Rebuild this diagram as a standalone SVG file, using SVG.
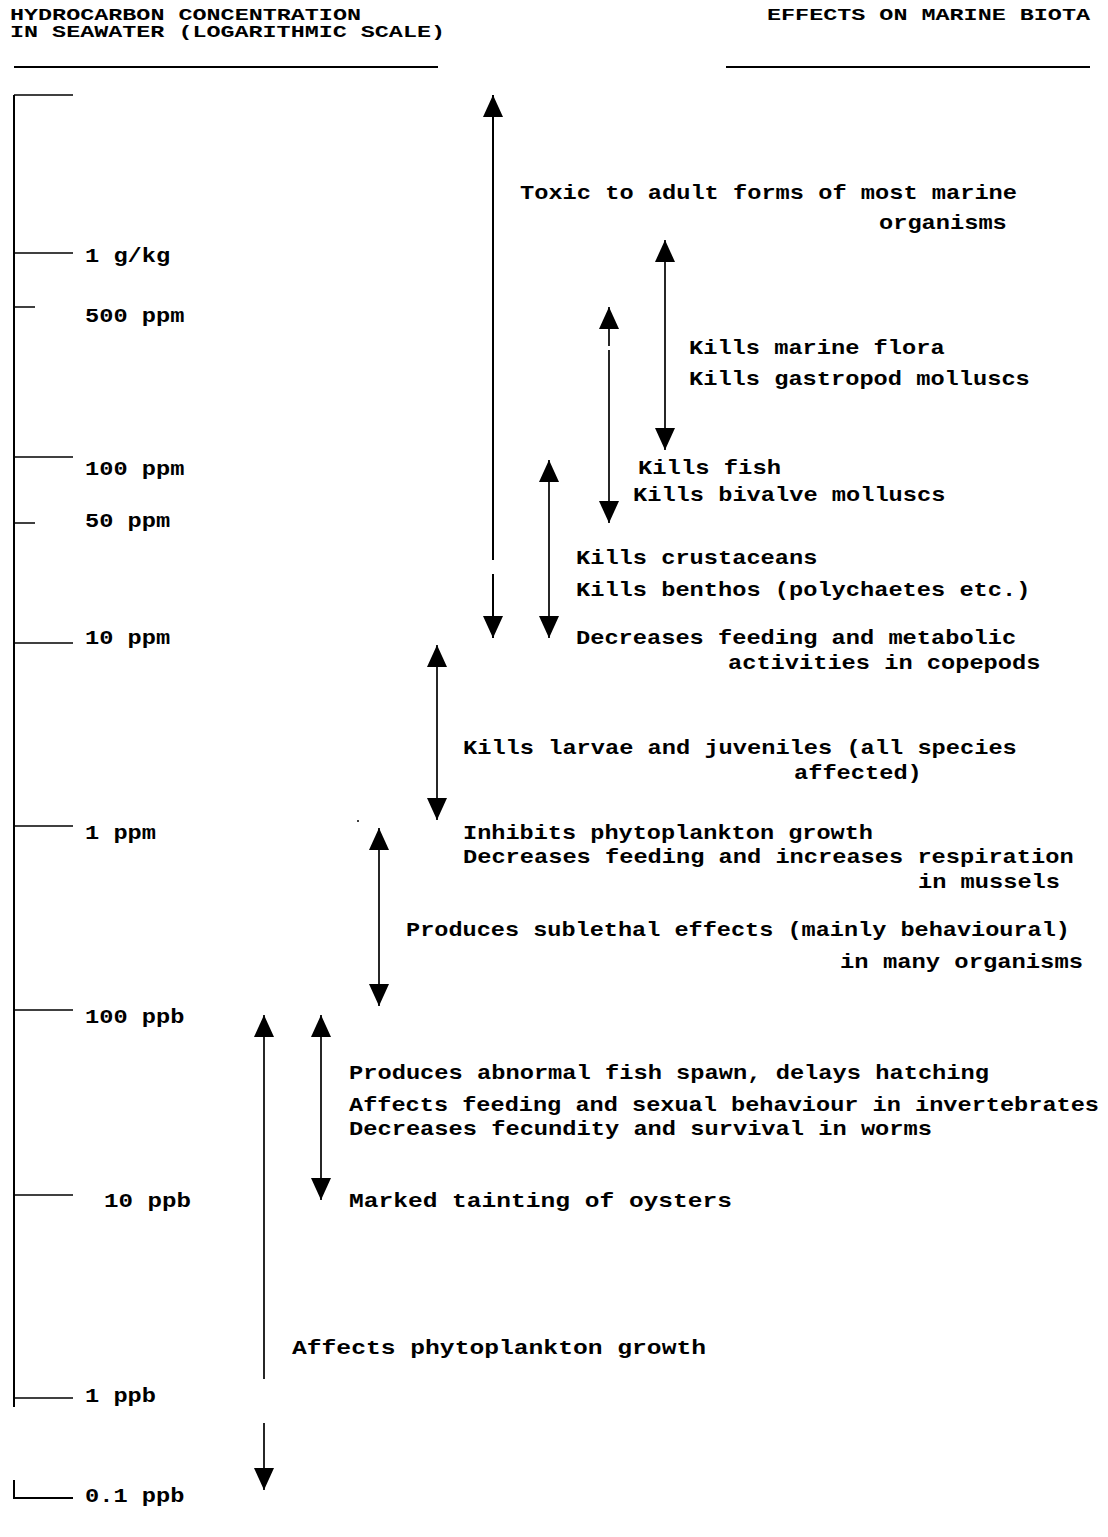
<svg xmlns="http://www.w3.org/2000/svg" width="1108" height="1537" viewBox="0 0 1108 1537">
<defs>
<style>
text{font-family:"Liberation Mono","DejaVu Sans Mono",monospace;font-weight:bold;fill:#000;}
.hd{font-size:16px;}
.t{font-size:20.5px;}
.ax{stroke:#000;stroke-width:2;fill:none;}
.tk{stroke:#000;stroke-width:1.5;fill:none;}
.ar{stroke:#000;stroke-width:1.7;fill:none;}
.arb{stroke:#000;stroke-width:2;fill:none;}
</style>
<marker id="ah" viewBox="0 0 22 20" refX="22" refY="10" markerWidth="22" markerHeight="20" markerUnits="userSpaceOnUse" orient="auto-start-reverse">
<path d="M0,0 L22,10 L0,20 Z" fill="#000"/>
</marker>
</defs>
<rect width="1108" height="1537" fill="#fff"/>

<g id="header">
<text class="hd" x="10" y="19.5" textLength="351" lengthAdjust="spacingAndGlyphs">HYDROCARBON CONCENTRATION</text>
<text class="hd" x="10" y="37" textLength="435" lengthAdjust="spacingAndGlyphs">IN SEAWATER (LOGARITHMIC SCALE)</text>
<text class="hd" x="767" y="19.5" textLength="323" lengthAdjust="spacingAndGlyphs">EFFECTS ON MARINE BIOTA</text>
<line class="ax" x1="14" y1="67" x2="438" y2="67"/>
<line class="ax" x1="726" y1="67" x2="1090" y2="67"/>
</g>

<g id="axis">
<line class="ax" x1="14" y1="95" x2="14" y2="1407"/>
<line class="tk" x1="14" y1="95" x2="73" y2="95"/>
<line class="tk" x1="14" y1="253" x2="73" y2="253"/>
<line class="tk" x1="14" y1="307" x2="35" y2="307"/>
<line class="tk" x1="14" y1="457" x2="73" y2="457"/>
<line class="tk" x1="14" y1="523" x2="35" y2="523"/>
<line class="tk" x1="14" y1="643" x2="73" y2="643"/>
<line class="tk" x1="14" y1="826" x2="73" y2="826"/>
<line class="tk" x1="14" y1="1010" x2="73" y2="1010"/>
<line class="tk" x1="14" y1="1195" x2="73" y2="1195"/>
<line class="tk" x1="14" y1="1398" x2="73" y2="1398"/>
<path class="ax" d="M14,1480 L14,1498 L73,1498"/>
</g>

<g id="axis-labels">
<text class="t" x="85" y="262" textLength="85.2" lengthAdjust="spacingAndGlyphs">1 g/kg</text>
<text class="t" x="85" y="322" textLength="99.4" lengthAdjust="spacingAndGlyphs">500 ppm</text>
<text class="t" x="85" y="475" textLength="99.4" lengthAdjust="spacingAndGlyphs">100 ppm</text>
<text class="t" x="85" y="527" textLength="85.2" lengthAdjust="spacingAndGlyphs">50 ppm</text>
<text class="t" x="85" y="644" textLength="85.2" lengthAdjust="spacingAndGlyphs">10 ppm</text>
<text class="t" x="85" y="839" textLength="71" lengthAdjust="spacingAndGlyphs">1 ppm</text>
<text class="t" x="85" y="1023" textLength="99.4" lengthAdjust="spacingAndGlyphs">100 ppb</text>
<text class="t" x="104" y="1207" textLength="87" lengthAdjust="spacingAndGlyphs">10 ppb</text>
<text class="t" x="85" y="1402" textLength="71" lengthAdjust="spacingAndGlyphs">1 ppb</text>
<text class="t" x="85" y="1502" textLength="99.4" lengthAdjust="spacingAndGlyphs">0.1 ppb</text>
</g>

<g id="connectors">
<line class="arb" x1="493" y1="95" x2="493" y2="560" marker-start="url(#ah)"/>
<line class="arb" x1="493" y1="574" x2="493" y2="638" marker-end="url(#ah)"/>
<line class="ar" x1="665" y1="240" x2="665" y2="450" marker-start="url(#ah)" marker-end="url(#ah)"/>
<line class="ar" x1="609" y1="307" x2="609" y2="346" marker-start="url(#ah)"/>
<line class="ar" x1="609" y1="350" x2="609" y2="523" marker-end="url(#ah)"/>
<line class="ar" x1="549" y1="460" x2="549" y2="638" marker-start="url(#ah)" marker-end="url(#ah)"/>
<line class="ar" x1="437" y1="645" x2="437" y2="820" marker-start="url(#ah)" marker-end="url(#ah)"/>
<line class="ar" x1="379" y1="828" x2="379" y2="1006" marker-start="url(#ah)" marker-end="url(#ah)"/>
<line class="ar" x1="264" y1="1015" x2="264" y2="1379" marker-start="url(#ah)"/>
<line class="ar" x1="264" y1="1423" x2="264" y2="1490" marker-end="url(#ah)"/>
<line class="ar" x1="321" y1="1015" x2="321" y2="1200" marker-start="url(#ah)" marker-end="url(#ah)"/>
<circle cx="358" cy="821" r="1" fill="#000"/>
</g>

<g id="n-toxic">
<text class="t" x="520" y="199" textLength="497" lengthAdjust="spacingAndGlyphs">Toxic to adult forms of most marine</text>
<text class="t" x="879" y="229" textLength="127.8" lengthAdjust="spacingAndGlyphs">organisms</text>
</g>
<g id="n-flora">
<text class="t" x="689" y="354" textLength="255.6" lengthAdjust="spacingAndGlyphs">Kills marine flora</text>
<text class="t" x="689" y="385" textLength="340.8" lengthAdjust="spacingAndGlyphs">Kills gastropod molluscs</text>
</g>
<g id="n-fish">
<text class="t" x="638" y="474" textLength="143" lengthAdjust="spacingAndGlyphs">Kills fish</text>
<text class="t" x="633" y="501" textLength="312.4" lengthAdjust="spacingAndGlyphs">Kills bivalve molluscs</text>
</g>
<g id="n-crustaceans">
<text class="t" x="576" y="564" textLength="241.4" lengthAdjust="spacingAndGlyphs">Kills crustaceans</text>
<text class="t" x="576" y="596" textLength="454.4" lengthAdjust="spacingAndGlyphs">Kills benthos (polychaetes etc.)</text>
<text class="t" x="576" y="644" textLength="440.2" lengthAdjust="spacingAndGlyphs">Decreases feeding and metabolic</text>
<text class="t" x="728" y="669" textLength="312.4" lengthAdjust="spacingAndGlyphs">activities in copepods</text>
</g>
<g id="n-larvae">
<text class="t" x="463" y="754" textLength="553.8" lengthAdjust="spacingAndGlyphs">Kills larvae and juveniles (all species</text>
<text class="t" x="794" y="779" textLength="127.8" lengthAdjust="spacingAndGlyphs">affected)</text>
</g>
<g id="n-phyto">
<text class="t" x="463" y="839" textLength="410" lengthAdjust="spacingAndGlyphs">Inhibits phytoplankton growth</text>
<text class="t" x="463" y="863" textLength="610.6" lengthAdjust="spacingAndGlyphs">Decreases feeding and increases respiration</text>
<text class="t" x="918" y="888" textLength="142" lengthAdjust="spacingAndGlyphs">in mussels</text>
</g>
<g id="n-sublethal">
<text class="t" x="406" y="936" textLength="664" lengthAdjust="spacingAndGlyphs">Produces sublethal effects (mainly behavioural)</text>
<text class="t" x="840" y="968" textLength="243" lengthAdjust="spacingAndGlyphs">in many organisms</text>
</g>
<g id="n-spawn">
<text class="t" x="349" y="1079" textLength="640" lengthAdjust="spacingAndGlyphs">Produces abnormal fish spawn, delays hatching</text>
<text class="t" x="349" y="1111" textLength="750" lengthAdjust="spacingAndGlyphs">Affects feeding and sexual behaviour in invertebrates</text>
<text class="t" x="349" y="1135" textLength="583" lengthAdjust="spacingAndGlyphs">Decreases fecundity and survival in worms</text>
<text class="t" x="349" y="1207" textLength="383" lengthAdjust="spacingAndGlyphs">Marked tainting of oysters</text>
</g>
<g id="n-growth">
<text class="t" x="292" y="1354" textLength="414" lengthAdjust="spacingAndGlyphs">Affects phytoplankton growth</text>
</g>
</svg>
